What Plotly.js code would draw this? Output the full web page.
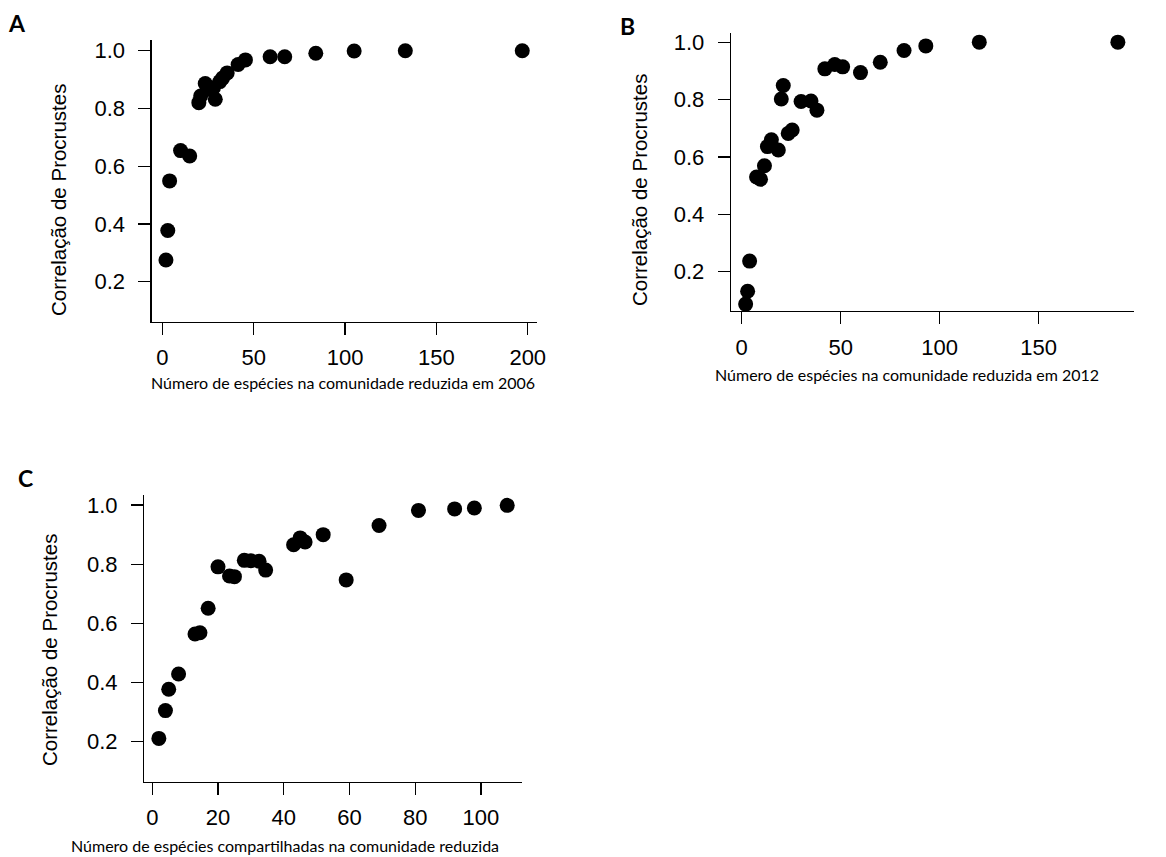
<!DOCTYPE html>
<html>
<head>
<meta charset="utf-8">
<script src="https://cdn.plot.ly/plotly-3.0.1.min.js"></script>
<style>html,body{margin:0;padding:0;background:#fff;}#chart{width:1166px;height:857px;}</style>
</head>
<body>
<div id="chart"></div>
<script>
// Panel A: 2006
const xA = [2, 3, 4, 10, 15, 20, 21, 23.5, 26, 29, 28, 31.5, 33, 35.5, 41.5, 45.5, 59, 67, 84, 105, 133, 197];
const yA = [0.275, 0.377, 0.549, 0.654, 0.635, 0.82, 0.843, 0.886, 0.866, 0.832, 0.872, 0.893, 0.905, 0.923, 0.952, 0.968, 0.979, 0.979, 0.991, 0.999, 1.0, 1.0];
// Panel B: 2012
const xB = [2, 3, 4, 7.5, 9.5, 11.5, 13, 15, 18.5, 20, 21, 23.5, 25.5, 30, 35, 38, 42, 47, 51, 60, 70, 82, 93, 120, 190];
const yB = [0.087, 0.132, 0.237, 0.530, 0.522, 0.569, 0.636, 0.660, 0.624, 0.802, 0.849, 0.682, 0.694, 0.793, 0.795, 0.763, 0.907, 0.922, 0.914, 0.894, 0.930, 0.971, 0.987, 1.0, 1.0];
// Panel C: shared species
const xC = [2, 4, 5, 8, 13, 14.5, 17, 20, 23.5, 25, 28, 30, 32.5, 34.5, 43, 45, 46.5, 52, 59, 69, 81, 92, 98, 108];
const yC = [0.211, 0.305, 0.377, 0.429, 0.564, 0.568, 0.651, 0.791, 0.760, 0.758, 0.813, 0.812, 0.810, 0.780, 0.866, 0.889, 0.875, 0.900, 0.747, 0.931, 0.982, 0.987, 0.990, 0.999];

const yTicks = [0.2, 0.4, 0.6, 0.8, 1.0];
const xTicksA = [0, 50, 100, 150, 200];
const xTicksB = [0, 50, 100, 150];
const xTicksC = [0, 20, 40, 60, 80, 100];

const yTitle = "Correlação de Procrustes";
const xTitleA = "Número de espécies na comunidade reduzida em 2006";
const xTitleB = "Número de espécies na comunidade reduzida em 2012";
const xTitleC = "Número de espécies compartilhadas na comunidade reduzida";
const panelLabels = ["A", "B", "C"];

const W = 1166, H = 857;
const px = v => v / W;
const py = v => 1 - v / H;

const marker = {color: "#000", size: 15, line: {width: 0}};
const traces = [
  {x: xA, y: yA, type: "scatter", mode: "markers", marker: marker, xaxis: "x", yaxis: "y", hoverinfo: "skip"},
  {x: xB, y: yB, type: "scatter", mode: "markers", marker: marker, xaxis: "x2", yaxis: "y2", hoverinfo: "skip"},
  {x: xC, y: yC, type: "scatter", mode: "markers", marker: marker, xaxis: "x3", yaxis: "y3", hoverinfo: "skip"}
];

const tickFont = {family: "Liberation Sans, Arial, sans-serif", size: 22, color: "#000"};
function xax(domain, range, ticks, anchor) {
  return {domain: domain, range: range, tickmode: "array", tickvals: ticks, ticktext: ticks.map(String),
    showline: true, linecolor: "#000", linewidth: 1.3, ticks: "outside", ticklen: 12, tickwidth: 1.3, tickcolor: "#000",
    showgrid: false, zeroline: false, tickfont: tickFont, ticklabelstandoff: 4, anchor: anchor, fixedrange: true};
}
function yax(domain, range, anchor) {
  return {domain: domain, range: range, tickmode: "array", tickvals: yTicks, ticktext: yTicks.map(v => v.toFixed(1)),
    showline: true, linecolor: "#000", linewidth: 1.3, ticks: "outside", ticklen: 12, tickwidth: 1.3, tickcolor: "#000",
    showgrid: false, zeroline: false, tickfont: tickFont, ticklabelstandoff: 9, anchor: anchor, fixedrange: true};
}

const titleFont = {family: "Liberation Sans, Arial, sans-serif", size: 20.5, color: "#000"};
const capFont = {family: "Lato, sans-serif", size: 16, color: "#000"};
const letterFont = {family: "Lato, sans-serif", size: 23, color: "#000", weight: "bold"};

function ann(text, x, y, font, angle) {
  return {text: text, x: px(x), y: py(y), xref: "paper", yref: "paper", xanchor: "center", yanchor: "middle",
    showarrow: false, font: font, textangle: angle || 0};
}

const layout = {
  width: W, height: H,
  margin: {l: 0, r: 0, t: 0, b: 0},
  paper_bgcolor: "#fff", plot_bgcolor: "#fff",
  showlegend: false,
  xaxis: xax([px(151.7), px(536.7)], [-5.8, 204.9], xTicksA, "y"),
  yaxis: yax([py(321.5), py(40)], [0.062, 1.037], "x"),
  xaxis2: xax([px(731), px(1134.3)], [-5.4, 198.3], xTicksB, "y2"),
  yaxis2: yax([py(311), py(32.7)], [0.063, 1.033], "x2"),
  xaxis3: xax([px(144.3), px(522)], [-2.43, 112.5], xTicksC, "y3"),
  yaxis3: yax([py(781.7), py(495)], [0.0646, 1.034], "x3"),
  annotations: [
    ann(yTitle, 58, 200, titleFont, -90),
    ann(yTitle, 640, 190, titleFont, -90),
    ann(yTitle, 49, 650, titleFont, -90),
    ann(xTitleA, 343, 382, capFont),
    ann(xTitleB, 907, 374, capFont),
    ann(xTitleC, 285, 845, capFont),
    ann(panelLabels[0], 17, 23, letterFont),
    ann(panelLabels[1], 627, 26, letterFont),
    ann(panelLabels[2], 25, 478, letterFont)
  ]
};

Plotly.newPlot("chart", traces, layout, {displayModeBar: false, staticPlot: true});
</script>
</body>
</html>
